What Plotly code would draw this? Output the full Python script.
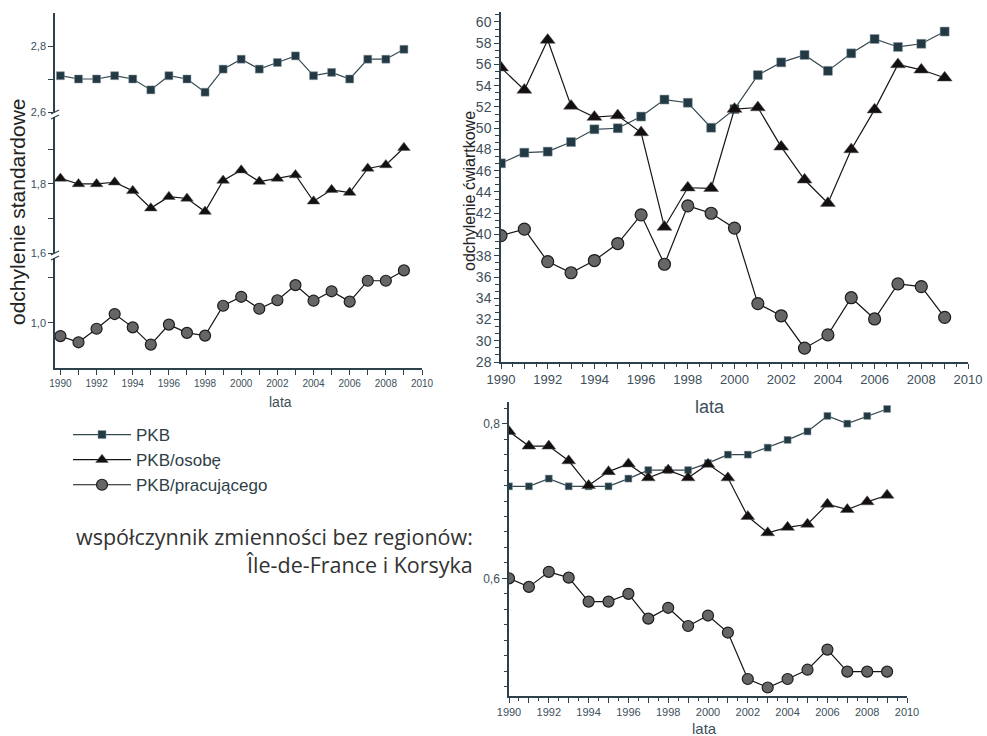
import plotly.graph_objects as go

W, H = 987, 736

years = list(range(1990, 2010))

# --- odchylenie standardowe (top-left, broken axis) ---
sd_pkb = [2.71, 2.70, 2.70, 2.71, 2.70, 2.667, 2.71, 2.70, 2.66, 2.73,
          2.76, 2.73, 2.75, 2.77, 2.71, 2.72, 2.70, 2.76, 2.76, 2.79]
sd_osobe = [1.816, 1.80, 1.80, 1.805, 1.78, 1.73, 1.763, 1.758, 1.72, 1.81,
            1.84, 1.807, 1.816, 1.826, 1.75, 1.783, 1.775, 1.845, 1.855, 1.905]
sd_prac = [0.943, 0.916, 0.975, 1.039, 0.981, 0.906, 0.993, 0.957, 0.945, 1.075,
           1.114, 1.062, 1.099, 1.165, 1.097, 1.138, 1.093, 1.184, 1.184, 1.229]

# --- odchylenie ćwiartkowe (top-right) ---
q_pkb = [46.7, 47.7, 47.8, 48.7, 49.9, 50.0, 51.1, 52.7, 52.4, 50.05,
         51.8, 55.0, 56.2, 56.9, 55.4, 57.05, 58.4, 57.65, 57.95, 59.1]
q_osobe = [55.7, 53.6, 58.3, 52.1, 51.05, 51.2, 49.6, 40.7, 44.4, 44.35,
           51.8, 51.95, 48.25, 45.15, 42.95, 48.0, 51.75, 56.0, 55.5, 54.75]
q_prac = [39.9, 40.5, 37.45, 36.4, 37.55, 39.15, 41.85, 37.2, 42.7, 42.0,
          40.6, 33.5, 32.35, 29.3, 30.55, 34.05, 32.05, 35.35, 35.1, 32.2]

# --- współczynnik zmienności (bottom-right) ---
cv_pkb = [0.719, 0.719, 0.729, 0.719, 0.719, 0.719, 0.729, 0.740, 0.740, 0.740,
          0.749, 0.760, 0.760, 0.769, 0.779, 0.790, 0.810, 0.800, 0.810, 0.819]
cv_osobe = [0.790, 0.771, 0.771, 0.752, 0.720, 0.738, 0.748, 0.730, 0.740, 0.730,
            0.7475, 0.730, 0.680, 0.659, 0.666, 0.670, 0.696, 0.689, 0.699, 0.7075]
cv_prac = [0.600, 0.589, 0.6085, 0.601, 0.570, 0.570, 0.580, 0.548, 0.562, 0.5385,
           0.552, 0.530, 0.470, 0.459, 0.470, 0.482, 0.508, 0.4795, 0.4795, 0.4795]

series_names = ["PKB", "PKB/osobę", "PKB/pracującego"]

# tick labels
x_years_all = list(range(1990, 2011))
x_ticktext = [str(v) if v % 2 == 0 else "" for v in x_years_all]
sd_top_vals, sd_top_text = [2.6, 2.7, 2.8], ["2,6", "", "2,8"]
sd_mid_vals, sd_mid_text = [1.6, 1.7, 1.8, 1.9], ["1,6", "", "1,8", ""]
sd_bot_vals, sd_bot_text = [1.0, 1.2], ["1,0", ""]
q_vals = list(range(28, 61, 2))
cv_vals, cv_text = [0.6, 0.8], ["0,6", "0,8"]

title_left = "odchylenie standardowe"
title_right = "odchylenie ćwiartkowe"
xlabel = "lata"
note_lines = ["współczynnik zmienności bez regionów:", "Île-de-France i Korsyka"]


def px(x):
    return x / W


def py(y):
    return 1 - y / H


SLATE = "#2c414c"
TICKC = "#3d4f5a"
FONT = "Liberation Sans, Arial"
sq_marker = dict(symbol="square", color="#233a44", line=dict(color="#8a9aa2", width=0.5))
tri_marker = dict(symbol="triangle-up", color="#141010", line=dict(color="#555", width=0.5))
cir_marker = dict(symbol="circle", color="#666666", line=dict(color="#1c1c1c", width=1.2))
sq_line = dict(color="#34474f", width=1.2)
blk_line = dict(color="#151515", width=1.2)

fig = go.Figure()

# top-left
fig.add_trace(go.Scatter(x=years, y=sd_pkb, mode="lines+markers", name=series_names[0],
                         xaxis="x", yaxis="y", line=sq_line, marker=dict(size=8, **sq_marker)))
fig.add_trace(go.Scatter(x=years, y=sd_osobe, mode="lines+markers", name=series_names[1],
                         xaxis="x", yaxis="y2", line=blk_line, marker=dict(size=11, **tri_marker)))
fig.add_trace(go.Scatter(x=years, y=sd_prac, mode="lines+markers", name=series_names[2],
                         xaxis="x", yaxis="y3", line=blk_line, marker=dict(size=11, **cir_marker)))
# top-right
fig.add_trace(go.Scatter(x=years, y=q_pkb, mode="lines+markers", name=series_names[0], showlegend=False,
                         xaxis="x2", yaxis="y4", line=sq_line, marker=dict(size=9, **sq_marker)))
fig.add_trace(go.Scatter(x=years, y=q_osobe, mode="lines+markers", name=series_names[1], showlegend=False,
                         xaxis="x2", yaxis="y4", line=blk_line, marker=dict(size=13, **tri_marker)))
fig.add_trace(go.Scatter(x=years, y=q_prac, mode="lines+markers", name=series_names[2], showlegend=False,
                         xaxis="x2", yaxis="y4", line=blk_line, marker=dict(size=12, **cir_marker)))
# bottom-right
fig.add_trace(go.Scatter(x=years, y=cv_pkb, mode="lines+markers", name=series_names[0], showlegend=False,
                         xaxis="x3", yaxis="y5", line=sq_line, marker=dict(size=7, **sq_marker)))
fig.add_trace(go.Scatter(x=years, y=cv_osobe, mode="lines+markers", name=series_names[1], showlegend=False,
                         xaxis="x3", yaxis="y5", line=blk_line, marker=dict(size=12, **tri_marker)))
fig.add_trace(go.Scatter(x=years, y=cv_prac, mode="lines+markers", name=series_names[2], showlegend=False,
                         xaxis="x3", yaxis="y5", line=blk_line, marker=dict(size=11, **cir_marker)))

axis_common = dict(showgrid=False, zeroline=False, showline=True, linecolor=SLATE, linewidth=1.5,
                   ticks="outside", tickcolor=SLATE, ticklen=5, tickwidth=1)


def tf(size):
    return dict(family=FONT, size=size, color=TICKC)


fig.update_layout(
    width=W, height=H, margin=dict(l=0, r=0, t=0, b=0, autoexpand=False),
    paper_bgcolor="white", plot_bgcolor="white",
    separators=",.",
    showlegend=True,
    legend=dict(x=px(68), y=py(417), xanchor="left", yanchor="top",
                font=dict(family=FONT, size=17, color="#2f3f48"),
                itemwidth=58, tracegroupgap=0, bgcolor="rgba(0,0,0,0)"),
    # top-left
    xaxis=dict(axis_common, domain=[px(55), px(422)], range=[1989.7, 2010], anchor="y3",
               tickmode="array", tickvals=x_years_all, ticktext=x_ticktext, tickfont=tf(10)),
    yaxis=dict(axis_common, domain=[py(112), py(13)], range=[2.6, 2.9], anchor="x",
               tickmode="array", tickvals=sd_top_vals, ticktext=sd_top_text, tickfont=tf(11)),
    yaxis2=dict(axis_common, domain=[py(253), py(117)], range=[1.6, 1.994], anchor="x",
                tickmode="array", tickvals=sd_mid_vals, ticktext=sd_mid_text, tickfont=tf(11)),
    yaxis3=dict(axis_common, domain=[py(368), py(258)], range=[0.804, 1.283], anchor="x",
                tickmode="array", tickvals=sd_bot_vals, ticktext=sd_bot_text, tickfont=tf(11)),
    # top-right
    xaxis2=dict(axis_common, domain=[px(501), px(968)], range=[1990, 2010], anchor="y4",
                tickmode="array", tickvals=x_years_all, ticktext=x_ticktext, tickfont=tf(13),
                minor=dict(ticks="outside", ticklen=3, tickcolor=SLATE, dtick=0.5, tick0=1990)),
    yaxis4=dict(axis_common, domain=[py(362), py(12)], range=[28, 60.94], anchor="x2",
                tickmode="array", tickvals=q_vals, ticktext=[str(v) for v in q_vals], tickfont=tf(14),
                minor=dict(ticks="outside", ticklen=4, tickcolor=SLATE, dtick=2 / 3, tick0=28)),
    # bottom-right
    xaxis3=dict(axis_common, domain=[px(509), px(907)], range=[1990, 2010], anchor="y5",
                tickmode="array", tickvals=x_years_all, ticktext=x_ticktext, tickfont=tf(11),
                minor=dict(ticks="outside", ticklen=3, tickcolor=SLATE, dtick=0.5, tick0=1990)),
    yaxis5=dict(axis_common, domain=[py(696), py(402)], range=[0.448, 0.828], anchor="x3",
                tickmode="array", tickvals=cv_vals, ticktext=cv_text, tickfont=tf(12),
                minor=dict(ticks="outside", ticklen=3, tickcolor=SLATE, dtick=0.02, tick0=0.6)),
)


def note(text, x, y, size, color, family=FONT, xanchor="center", angle=0, align="center"):
    return dict(text=text, x=px(x), y=py(y), xanchor=xanchor, yanchor="middle", textangle=angle,
                showarrow=False, xref="paper", yref="paper", align=align,
                font=dict(family=family, size=size, color=color))


ann = [
    note(title_left, 17, 212, 21, "#222", angle=-90),
    note(title_right, 469, 191, 16, "#222", angle=-90),
    note(xlabel, 280, 402, 14, TICKC),
    note(xlabel, 710, 407, 18, TICKC),
    note(xlabel, 704, 728, 15, TICKC),
    note("<br>".join(note_lines), 475, 550, 21.5, "#333", family="Open Sans",
         xanchor="right", align="right"),
]
fig.update_layout(annotations=ann)

# axis break marks
shapes = []
for yb in (114.5, 255.5):
    for dy in (-2.5, 2.5):
        shapes.append(dict(type="line", xref="paper", yref="paper",
                           x0=px(51), y0=py(yb + dy + 2), x1=px(59), y1=py(yb + dy - 2),
                           line=dict(color=SLATE, width=1.2)))
fig.update_layout(shapes=shapes)

fig.write_html("out.html", config={"displayModeBar": False},
               post_script="document.body.style.margin='0';")
